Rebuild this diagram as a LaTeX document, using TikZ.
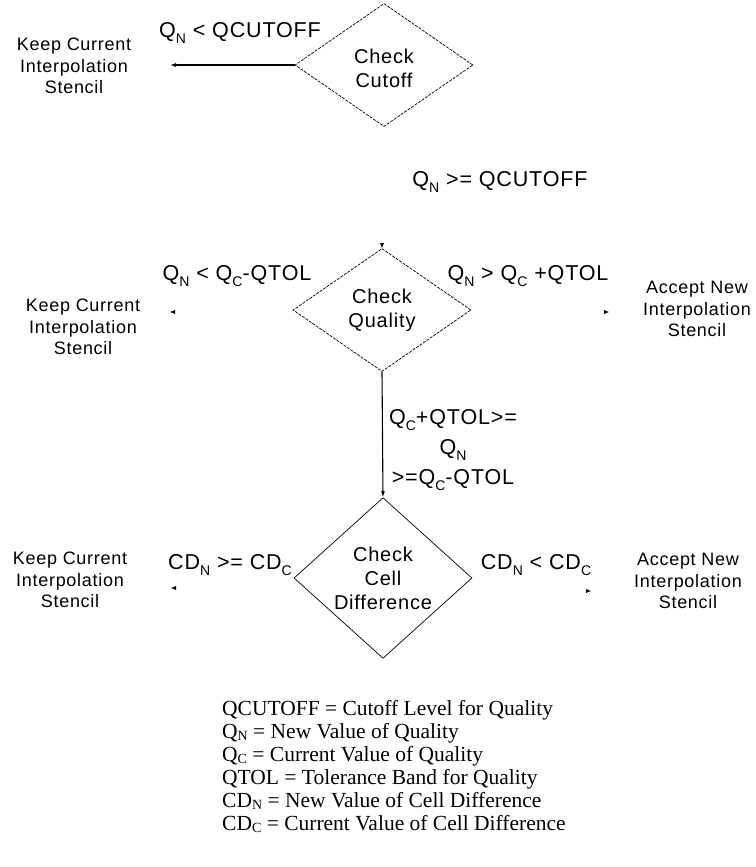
\documentclass[tikz,border=0pt]{standalone}
\usepackage{fontspec}
\setmainfont{Liberation Sans}[LetterSpace=4]
\newfontfamily\legendfont{Liberation Serif}
\usetikzlibrary{arrows.meta,positioning,shapes.geometric}
\newcommand{\dn}[1]{\raisebox{-0.5ex}{\fontsize{14}{14}\selectfont #1}}
\newcommand{\lsub}[1]{\raisebox{-0.2ex}{\fontsize{14}{14}\selectfont #1}}

\begin{document}
\begin{tikzpicture}[x=1pt,y=-1pt,
    check/.style={diamond,draw,line width=0.7pt,minimum width=178pt,
      minimum height=123pt,inner sep=0pt,align=center,
      font=\fontsize{20}{24}\selectfont},
    faint/.style={dash pattern=on 3pt off 1.2pt},
    outcome/.style={align=center,font=\fontsize{18}{21.5}\selectfont},
    cond/.style={inner sep=0pt,font=\fontsize{21.5}{30}\selectfont},
    flow/.style={line width=1.1pt,-{Latex[length=6pt,width=4pt]}},
    tip/.style={-{Latex[length=5pt,width=4pt]}}]
  \useasboundingbox (0,0) rectangle (755,867);

  % decisions
  \node[check,faint] (cutoff) at (384,65) {\\[-2pt]Check\\Cutoff};
  \node[check,faint] (quality) at (382,310) {Check\\Quality};
  \node[check] (celldiff) at (383,578) {Check\\Cell\\Difference};

  % outcomes
  \node[outcome] (keepcut) at (74,66) {Keep Current\\Interpolation\\Stencil};
  \node[outcome] (keepq) at (83,327) {Keep Current\\Interpolation\\Stencil};
  \node[outcome] (acceptq) at (697,309) {Accept New\\Interpolation\\Stencil};
  \node[outcome] (keepcd) at (70,580) {Keep Current\\Interpolation\\Stencil};
  \node[outcome] (acceptcd) at (688,581) {Accept New\\Interpolation\\Stencil};

  % conditions
  \node[cond] (lcut) at (240,33) {Q\dn{N} < QCUTOFF};
  \node[cond] (lpass) at (500,182) {Q\dn{N} >= QCUTOFF};
  \node[cond] (llow) at (237,276) {Q\dn{N} < Q\dn{C}-QTOL};
  \node[cond] (lhigh) at (528,276) {Q\dn{N} > Q\dn{C} +QTOL};
  \node[cond,align=center] (lband) at (453,450) {Q\dn{C}+QTOL>=\\Q\dn{N}\\>=Q\dn{C}-QTOL};
  \node[cond] (lcdge) at (230,565) {CD\dn{N} >= CD\dn{C}};
  \node[cond] (lcdlt) at (536,565) {CD\dn{N} < CD\dn{C}};

  % arrow ends
  \coordinate (cutend) at (170,65);
  \coordinate (qin) at (382,245);
  \coordinate (qleft) at (170,312);
  \coordinate (qright) at (609,312);
  \coordinate (cdleft) at (171,588);
  \coordinate (cdright) at (591,591);

  \draw[flow] (cutoff.west) -- (cutend);
  \draw[flow] (quality.south) -- (celldiff.north);
  \draw[tip] (qin) -- (quality.north);
  \draw[tip] ([xshift=3pt]qleft) -- (qleft);
  \draw[tip] ([xshift=-3pt]qright) -- (qright);
  \draw[tip] ([xshift=3pt]cdleft) -- (cdleft);
  \draw[tip] ([xshift=-3pt]cdright) -- (cdright);

  % legend
  \node[anchor=north west,align=left,inner sep=0pt,
        font=\legendfont\fontsize{21.5}{23}\selectfont] (legend) at (222,700) {%
    QCUTOFF = Cutoff Level for Quality\\
    Q\lsub{N} = New Value of Quality\\
    Q\lsub{C} = Current Value of Quality\\
    QTOL = Tolerance Band for Quality\\
    CD\lsub{N} = New Value of Cell Difference\\
    CD\lsub{C} = Current Value of Cell Difference};
\end{tikzpicture}
\end{document}
